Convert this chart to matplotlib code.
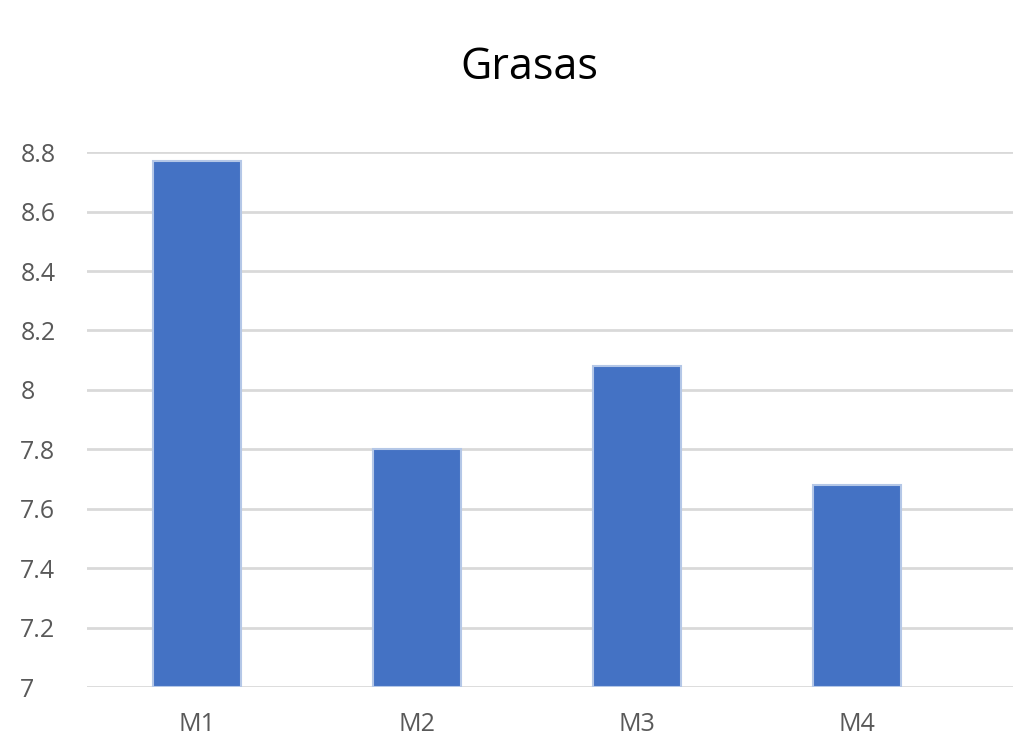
import matplotlib.pyplot as plt

categories = ["M1", "M2", "M3", "M4"]
grasas = [8.77, 7.80, 8.08, 7.68]
yticks = [7, 7.2, 7.4, 7.6, 7.8, 8, 8.2, 8.4, 8.6, 8.8]
ytick_labels = ["7", "7.2", "7.4", "7.6", "7.8", "8", "8.2", "8.4", "8.6", "8.8"]

plt.rcParams["font.family"] = ["Open Sans", "DejaVu Sans"]

fig = plt.figure(figsize=(10.17, 7.46), dpi=100)
ax = fig.add_axes([0.0855, 0.079, 0.9105, 0.717])

x = range(len(categories))
ax.bar(x, [v - 7 for v in grasas], bottom=7, width=0.4,
       color="#4472c4", edgecolor="#b4c7e7", linewidth=1.5, zorder=3)

ax.set_ylim(7, 8.8)
ax.set_xlim(-0.5, 3.71)
ax.set_yticks(yticks)
ax.set_yticklabels(ytick_labels)
ax.set_xticks(list(x))
ax.set_xticklabels(categories)
ax.grid(axis="y", color="#d9d9d9", linewidth=2, zorder=0)
ax.tick_params(length=0, labelsize=18, colors="#595959")
ax.tick_params(axis="x", pad=18)
ax.tick_params(axis="y", pad=48)
for lbl in ax.get_yticklabels():
    lbl.set_horizontalalignment("left")
for s in ax.spines.values():
    s.set_visible(False)

fig.text(0.52, 0.909, "Grasas", ha="center", va="center", fontsize=31, color="black")

fig.savefig("out.png", dpi=100, facecolor="white")
